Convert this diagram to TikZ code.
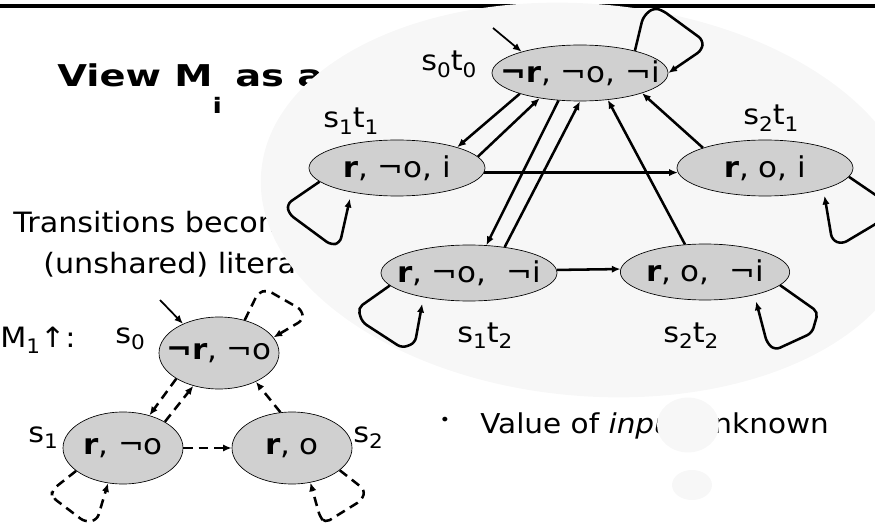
\documentclass[tikz,border=0pt]{standalone}
\usepackage{fontspec}
\setmainfont[FakeStretch=1.08]{DejaVu Sans}
\newfontfamily\titlefont[FakeStretch=1.28]{DejaVu Sans}
\usetikzlibrary{shapes.geometric,arrows.meta}
\definecolor{bubble}{RGB}{247,247,247}
\definecolor{nodegray}{RGB}{208,208,208}
\newcommand\mysub[1]{\raisebox{-0.22em}{\fontsize{15}{15}\selectfont #1}}
\newcommand\ntext[1]{\makebox[0pt]{#1}}
\begin{document}
\begin{tikzpicture}[x=0.75pt,y=-0.75pt,
  prodstate/.style={ellipse, draw=black, line width=0.5pt, fill=nodegray, inner sep=0pt,
    minimum width=132pt, minimum height=42pt, font=\fontsize{21.5}{21.5}\selectfont},
  mstate/.style={prodstate, minimum width=90pt, minimum height=54pt},
  lbl/.style={inner sep=0pt, anchor=base west, font=\fontsize{21}{21}\selectfont},
  tr/.style={line width=1.9pt, -{Latex[length=6.5pt,width=5.5pt]}, rounded corners=4pt},
  dtr/.style={tr, dash pattern=on 7pt off 4.5pt},
  ini/.style={line width=1.3pt, -{Latex[length=6.5pt,width=5.5pt]}}]
\useasboundingbox (0,0) rectangle (875,524);
\draw[line width=2.3pt] (0,6) -- (875,6);
% slide text (partly hidden by the bubble)
\node[anchor=base west, inner sep=0pt, font=\titlefont\bfseries\fontsize{22.5}{22.5}\selectfont] (title) at (57,87)
  {View M\raisebox{-20pt}{\fontsize{16}{16}\selectfont i} as a};
\node[lbl] (tr1) at (13,233) {Transitions become};
\node[lbl] (tr2) at (43,273) {(unshared) literals};
\node[lbl, font=\fontsize{20.5}{20.5}\selectfont] (val) at (480,433) {Value of \textit{input} unknown};
\node[inner sep=0pt, font=\fontsize{12}{12}\selectfont] (bul) at (445,421) {•};
% thought bubble
\fill[bubble, rotate around={-5:(588,200)}] (588,200) ellipse [x radius=246pt, y radius=147pt];
\fill[bubble] (688,425) ellipse [x radius=23.25pt, y radius=20.6pt];
\fill[bubble] (692,485) ellipse [x radius=15pt, y radius=11.25pt];
% product states
\node[prodstate] (A) at (580,73) {\ntext{\textbf{¬r}, ¬o, ¬i}};
\node[prodstate] (B) at (397,168) {\ntext{\textbf{r}, ¬o, i}};
\node[prodstate] (C) at (765,168) {\ntext{\textbf{r}, o, i}};
\node[prodstate] (D) at (469,273) {\ntext{\textbf{r}, ¬o, \ ¬i}};
\node[prodstate, minimum width=127pt] (E) at (705,272) {\ntext{\textbf{r}, o, \ ¬i}};
\node[lbl] (l00) at (421,71) {s\mysub{0}t\mysub{0}};
\node[lbl] (l11) at (323,128) {s\mysub{1}t\mysub{1}};
\node[lbl] (l21) at (743,125) {s\mysub{2}t\mysub{1}};
\node[lbl] (l12) at (457,342) {s\mysub{1}t\mysub{2}};
\node[lbl] (l22) at (663,342) {s\mysub{2}t\mysub{2}};
\coordinate (iA) at (493,28);
\draw[ini] (iA) -- (A.160);
\draw[tr] (A.22) -- (643,17) -- (653,8) -- (662,10) -- (703,40) -- (702,50) -- (A.0);
\draw[tr] (A.199) -- (B.19);
\draw[tr] (B.8) -- (A.212);
\draw[tr] (A.232) -- (D.58);
\draw[tr] (D.36) -- (A.270);
\draw[tr] (E.126) -- (A.316);
\draw[tr] (C.162) -- (A.342);
\draw[tr] (B.-3) -- (C.183);
\draw[tr] (D.2) -- (E.178);
\draw[tr, shorten >=5pt] (B.190) -- (287,204) -- (289,214) -- (331,245) -- (340,243) -- (B.208);
\draw[tr, shorten >=5pt] (C.354) -- (880,198) -- (879,222) -- (842,244) -- (832,240) -- (C.340);
\draw[tr, shorten >=5pt] (D.189) -- (358,308) -- (362,322) -- (402,348) -- (415,343) -- (D.208);
\draw[tr, shorten >=5pt] (E.350) -- (818,312) -- (812,333) -- (775,350) -- (767,343) -- (E.335);
% M1
\node[mstate] (P) at (219,353) {\ntext{\textbf{¬r}, ¬o}};
\node[mstate] (Q) at (123,448) {\ntext{\textbf{r}, ¬o}};
\node[mstate] (R) at (292,448) {\ntext{\textbf{r}, o}};
\node[lbl] (m1) at (0,347) {M\mysub{1}↑:};
\node[lbl] (ls0) at (115,343) {s\mysub{0}};
\node[lbl] (ls1) at (28,442) {s\mysub{1}};
\node[lbl] (ls2) at (353,442) {s\mysub{2}};
\coordinate (iP) at (160,300);
\draw[ini] (iP) -- (P.141);
\draw[dtr] (P.52) -- (258,293) -- (267,290) -- (302,310) -- (303,320) -- (P.16);
\draw[dtr] (P.211) -- (Q.51);
\draw[dtr] (Q.32) -- (P.232);
\draw[dtr] (R.108) -- (P.322);
\draw[dtr] (Q.east) -- (R.west);
\draw[dtr] (Q.206) -- (52,490) -- (52,497) -- (85,522) -- (97,520) -- (Q.247);
\draw[dtr] (R.335) -- (365,490) -- (362,500) -- (325,523) -- (320,517) -- (R.298);
\end{tikzpicture}
\end{document}
